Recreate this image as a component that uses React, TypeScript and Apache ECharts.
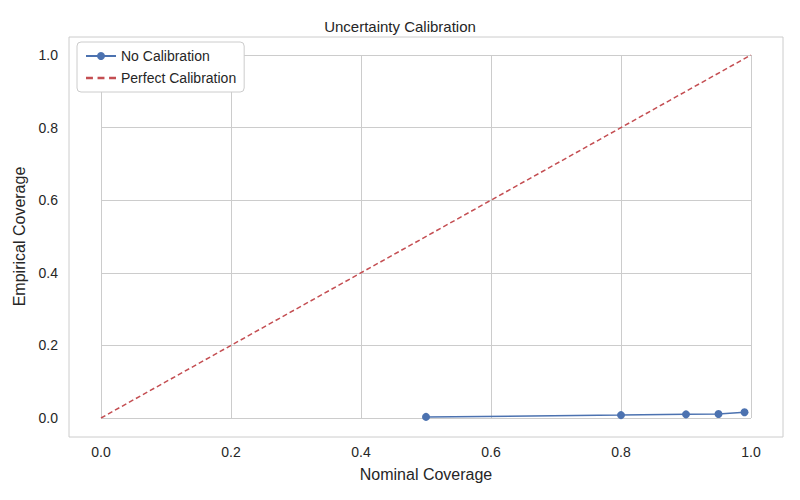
import { useEffect, useRef } from "react";
import * as echarts from "echarts";

const nominal = [0.5, 0.8, 0.9, 0.95, 0.99];
const empirical = [0.003, 0.008, 0.01, 0.011, 0.016];
const perfect = [
  [0, 0],
  [1, 1],
];

const FONT = "Liberation Sans";
const TEXT = "#262626";
const GRID = "#cccccc";

export default function App() {
  const ref = useRef<HTMLDivElement>(null);

  useEffect(() => {
    if (!ref.current) return;
    const chart = echarts.init(ref.current, null, { renderer: "svg" });
    chart.setOption({
      animation: false,
      textStyle: { fontFamily: FONT, color: TEXT },
      title: {
        text: "Uncertainty Calibration",
        left: "center",
        top: 14,
        textStyle: { fontFamily: FONT, fontSize: 15, fontWeight: "normal", color: TEXT },
      },
      // inner grid maps 0..1 exactly; outer frame drawn separately
      grid: { left: 101, right: 49, top: 55, bottom: 82 },
      graphic: [
        {
          type: "rect",
          shape: { x: 69, y: 37, width: 714, height: 400 },
          style: { fill: "none", stroke: GRID, lineWidth: 1 },
          z: 0,
        },
      ],
      legend: {
        orient: "vertical",
        left: 77,
        top: 42,
        padding: [7, 8, 7, 8],
        itemGap: 8,
        itemWidth: 30,
        itemHeight: 10,
        borderColor: GRID,
        borderWidth: 1,
        borderRadius: 4,
        backgroundColor: "#fff",
        textStyle: { fontFamily: FONT, fontSize: 14, color: TEXT },
        data: [
          { name: "No Calibration" },
          { name: "Perfect Calibration", icon: "path://M0,0 L6,0 L6,2 L0,2 Z M10,0 L16,0 L16,2 L10,2 Z M20,0 L26,0 L26,2 L20,2 Z" },
        ],
      },
      xAxis: {
        type: "value",
        min: 0,
        max: 1,
        interval: 0.2,
        name: "Nominal Coverage",
        nameLocation: "middle",
        nameGap: 48,
        nameTextStyle: { fontFamily: FONT, fontSize: 16, color: TEXT },
        axisLine: { show: false },
        axisTick: { show: false },
        axisLabel: { margin: 27, fontSize: 14, color: TEXT, formatter: (v: number) => v.toFixed(1) },
        splitLine: { lineStyle: { color: GRID, width: 1 } },
      },
      yAxis: {
        type: "value",
        min: 0,
        max: 1,
        interval: 0.2,
        name: "Empirical Coverage",
        nameLocation: "middle",
        nameGap: 71,
        nameTextStyle: { fontFamily: FONT, fontSize: 16, color: TEXT },
        axisLine: { show: false },
        axisTick: { show: false },
        axisLabel: { margin: 43, fontSize: 14, color: TEXT, formatter: (v: number) => v.toFixed(1) },
        splitLine: { lineStyle: { color: GRID, width: 1 } },
      },
      series: [
        {
          name: "No Calibration",
          type: "line",
          data: nominal.map((x, i) => [x, empirical[i]]),
          symbol: "circle",
          symbolSize: 8,
          itemStyle: { color: "#4c72b0" },
          lineStyle: { color: "#4c72b0", width: 1.5 },
          z: 3,
        },
        {
          name: "Perfect Calibration",
          type: "line",
          data: perfect,
          symbol: "none",
          itemStyle: { color: "#c44e52" },
          lineStyle: { color: "#c44e52", width: 1.5, type: [5, 3] },
          z: 2,
        },
      ],
    });
    return () => chart.dispose();
  }, []);

  return <div ref={ref} style={{ position: "absolute", left: 0, top: 0, width: 800, height: 500 }} />;
}
